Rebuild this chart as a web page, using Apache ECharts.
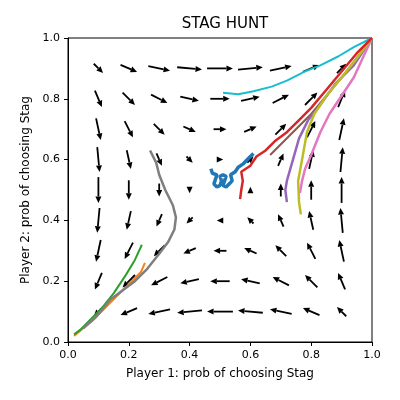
<!DOCTYPE html>
<html><head><meta charset="utf-8">
<script src="https://cdn.jsdelivr.net/npm/echarts@6/dist/echarts.min.js"></script>
<style>html,body{margin:0;padding:0;background:#fff}#c{width:400px;height:400px}</style>
</head><body><div id="c"></div>
<script>
const gridVals = [0.1,0.2,0.3,0.4,0.5,0.6,0.7,0.8,0.9];
// U[row y][col x], V[row y][col x]
const U = [
 [-3.6,-6.4,-8.4,-9.6,-10,-9.6,-8.4,-6.4,-3.6],
 [-2.7,-4.8,-6.3,-7.2,-7.5,-7.2,-6.3,-4.8,-2.7],
 [-1.8,-3.2,-4.2,-4.8,-5,-4.8,-4.2,-3.2,-1.8],
 [-0.9,-1.6,-2.1,-2.4,-2.5,-2.4,-2.1,-1.6,-0.9],
 [0,0,0,0,0,0,0,0,0],
 [0.9,1.6,2.1,2.4,2.5,2.4,2.1,1.6,0.9],
 [1.8,3.2,4.2,4.8,5,4.8,4.2,3.2,1.8],
 [2.7,4.8,6.3,7.2,7.5,7.2,6.3,4.8,2.7],
 [3.6,6.4,8.4,9.6,10,9.6,8.4,6.4,3.6]
];
const V = [
 [-3.6,-2.7,-1.8,-0.9,0,0.9,1.8,2.7,3.6],
 [-6.4,-4.8,-3.2,-1.6,0,1.6,3.2,4.8,6.4],
 [-8.4,-6.3,-4.2,-2.1,0,2.1,4.2,6.3,8.4],
 [-9.6,-7.2,-4.8,-2.4,0,2.4,4.8,7.2,9.6],
 [-10,-7.5,-5,-2.5,0,2.5,5,7.5,10],
 [-9.6,-7.2,-4.8,-2.4,0,2.4,4.8,7.2,9.6],
 [-8.4,-6.3,-4.2,-2.1,0,2.1,4.2,6.3,8.4],
 [-6.4,-4.8,-3.2,-1.6,0,1.6,3.2,4.8,6.4],
 [-3.6,-2.7,-1.8,-0.9,0,0.9,1.8,2.7,3.6]
];
const trajBlue = [[.47,.57],[.475,.555],[.49,.55],[.485,.535],[.48,.52],[.49,.51],[.5,.515],[.505,.53],[.5,.545],[.51,.55],[.52,.545],[.515,.53],[.51,.515],[.52,.51],[.53,.52],[.54,.53],[.535,.55],[.55,.56],[.56,.575],[.575,.585],[.59,.6],[.6,.61],[.61,.62]];
const trajOrange = [[.253,.26],[.24,.23],[.2,.19],[.16,.15],[.12,.11],[.08,.07],[.05,.045],[.02,.02]];
const trajGreen = [[.243,.32],[.22,.27],[.19,.22],[.15,.16],[.11,.11],[.07,.07],[.04,.04],[.02,.025]];
const trajRed = [[.566,.47],[.57,.5],[.575,.53],[.57,.56],[.6,.58],[.62,.61],[.65,.63],[.68,.66],[.72,.69],[.76,.73],[.8,.77],[.85,.83],[.9,.89],[.95,.95],[1,1]];
const trajPurple = [[.72,.46],[.715,.5],[.72,.53],[.74,.6],[.76,.67],[.79,.73],[.83,.78],[.88,.85],[.94,.91],[1,1]];
const trajBrown = [[.665,.615],[.72,.67],[.8,.75],[.9,.87],[1,1]];
const trajPink = [[.763,.49],[.77,.53],[.78,.57],[.8,.615],[.83,.69],[.86,.75],[.9,.81],[.94,.87],[1,1]];
const trajGray = [[.27,.63],[.29,.59],[.3,.55],[.32,.5],[.345,.45],[.355,.41],[.35,.37],[.33,.33],[.3,.29],[.26,.24],[.22,.2],[.18,.17],[.14,.14],[.09,.08],[.05,.045]];
const trajOlive = [[.766,.42],[.76,.46],[.757,.53],[.77,.6],[.786,.69],[.81,.75],[.85,.81],[.9,.87],[.94,.92],[1,1]];
const trajCyan = [[.51,.82],[.56,.815],[.61,.825],[.67,.84],[.72,.86],[.78,.89],[.83,.91],[.89,.94],[.94,.97],[1,1]];

const arrowData = [];
gridVals.forEach((y,i)=>gridVals.forEach((x,j)=>{ if(U[i][j]!==0||V[i][j]!==0) arrowData.push([x,y,U[i][j],V[i][j]]); }));
const S = 0.0085;
function renderArrow(params, api){
  const x=api.value(0), y=api.value(1), u=api.value(2), v=api.value(3);
  const t = api.coord([x-S*u/2, y-S*v/2]);
  const h = api.coord([x+S*u/2, y+S*v/2]);
  const dx=h[0]-t[0], dy=h[1]-t[1];
  const L=Math.hypot(dx,dy); if(L<0.5) return null;
  const ux=dx/L, uy=dy/L, px=-uy, py=ux;
  const hl=Math.min(6.5, L), hw=3;
  const bx=h[0]-ux*hl, by=h[1]-uy*hl;
  const children=[{type:'polygon',shape:{points:[[h[0],h[1]],[bx+px*hw,by+py*hw],[bx-px*hw,by-py*hw]]},style:{fill:'#000'}}];
  if(L>hl) children.push({type:'line',shape:{x1:t[0],y1:t[1],x2:bx,y2:by},style:{stroke:'#000',lineWidth:1.8}});
  return {type:'group',children};
}
const trajs = [[trajOrange,'#ff7f0e',2],[trajGreen,'#2ca02c',2],[trajGray,'#7f7f7f',2.5],[trajBrown,'#8c564b',2],[trajPurple,'#9467bd',2.5],[trajPink,'#e377c2',2.5],[trajOlive,'#bcbd22',2.5],[trajCyan,'#17becf',2],[trajRed,'#d62728',2.5],[trajBlue,'#1f77b4',3.5]];
const axisCommon = {min:0,max:1,interval:0.2,axisLine:{show:true,lineStyle:{color:'#000'}},axisTick:{show:true,inside:false,length:4,lineStyle:{color:'#000'}},splitLine:{show:false},axisLabel:{color:'#000',fontSize:11,fontFamily:'DejaVu Sans',formatter:v=>v.toFixed(1)},nameLocation:'middle',nameTextStyle:{color:'#000',fontSize:12,fontFamily:'DejaVu Sans'}};
const chart = echarts.init(document.getElementById('c'));
chart.setOption({
  animation:false,
  title:{text:'STAG HUNT',left:220,top:12,textAlign:'center',textStyle:{fontSize:15,fontWeight:'normal',color:'#000',fontFamily:'DejaVu Sans'}},
  grid:{left:68,right:28,top:38,bottom:58,show:true,borderColor:'#000',borderWidth:1},
  xAxis:Object.assign({type:'value',name:'Player 1: prob of choosing Stag',nameGap:26},axisCommon),
  yAxis:Object.assign({type:'value',name:'Player 2: prob of choosing Stag',nameGap:36},axisCommon),
  series:[{type:'custom',renderItem:renderArrow,data:arrowData,z:1}].concat(trajs.map(([d,c,w])=>({type:'line',data:d,symbol:'none',lineStyle:{color:c,width:w},z:3})))
});
</script></body></html>
